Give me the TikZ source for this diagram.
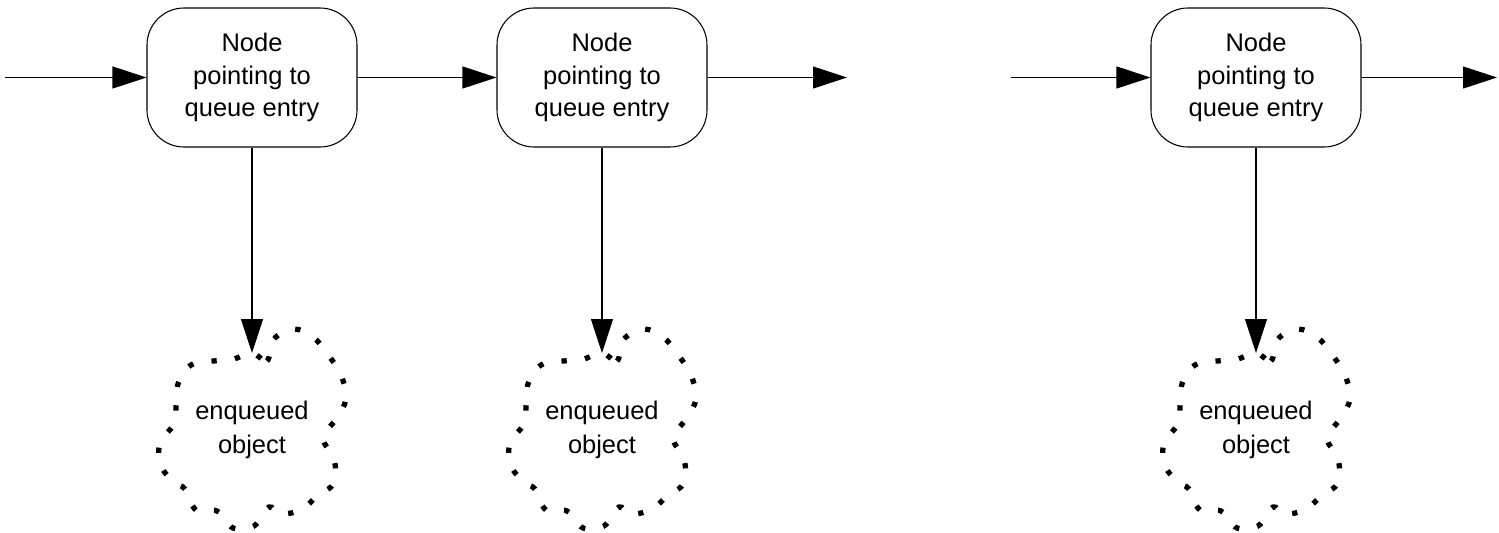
\documentclass[tikz,border=0pt]{standalone}
\usepackage{fontspec}
\setmainfont{Liberation Sans}
\usetikzlibrary{shapes,arrows.meta}

\begin{document}
\begin{tikzpicture}[node distance = 7cm, auto]

    % Define block styles
    \tikzstyle{block} = [rectangle, draw, line width = 0.6pt, align = center,
        rounded corners = 0.74cm, minimum width = 4.2cm, minimum height = 2.78cm,
        font = \fontsize{14.5}{18.5}\selectfont]
    \tikzstyle{blob} = [align = center, font = \fontsize{14.5}{19}\selectfont]
    \tikzstyle{line} = [draw, line width = 0.6pt,
        -{Triangle[length = 0.68cm, width = 0.44cm]}]
    \tikzstyle{dots} = [line width = 3pt, dash pattern = on 3pt off 10.5pt]

    \useasboundingbox (0,0) rectangle (29.98,10.64);

    % Place nodes
    \node [block] (entry1) at (5.04,9.09) {Node\\pointing to\\queue entry};
    \node [block, right of=entry1] (entry2) {Node\\pointing to\\queue entry};
    \node [block, right of=entry2, node distance = 13.08cm] (entry3)
        {Node\\pointing to\\queue entry};
    \node [blob, below of=entry1, node distance = 7.05cm] (obj1) {enqueued\\object};
    \node [blob, below of=entry2, node distance = 7.05cm] (obj2) {enqueued\\object};
    \node [blob, below of=entry3, node distance = 7.05cm] (obj3) {enqueued\\object};

    % Loose ends of the list
    \coordinate [left of=entry1, node distance = 4.94cm] (head1);
    \coordinate [right of=entry2, node distance = 4.9cm] (tail2);
    \coordinate [left of=entry3, node distance = 4.9cm] (head3);
    \coordinate [right of=entry3, node distance = 4.82cm] (tail3);
    \coordinate [above of=obj1, node distance = 1.54cm] (dent1);
    \coordinate [above of=obj2, node distance = 1.54cm] (dent2);
    \coordinate [above of=obj3, node distance = 1.54cm] (dent3);

    % Dotted outlines of the objects
    \foreach \obj in {obj1, obj2, obj3}
        \draw [dots, shift={(\obj.center)}] plot [smooth cycle, tension = 0.6]
            coordinates {(0,1.54) (0.30,1.38) (0.44,1.82) (0.84,2.02) (1.24,1.84)
            (1.54,1.48) (1.78,1.10) (1.88,0.62) (1.68,0.22) (1.42,-0.16)
            (1.64,-0.58) (1.64,-1.06) (1.30,-1.32) (0.98,-1.60) (0.54,-1.68)
            (0.34,-1.54) (0.04,-1.92) (-0.38,-1.96) (-0.70,-1.62) (-1.12,-1.60)
            (-1.34,-1.18) (-1.54,-1.06) (-1.82,-0.72) (-1.84,-0.26) (-1.56,0.12)
            (-1.52,0.46) (-1.48,0.92) (-1.22,1.30) (-0.78,1.38) (-0.42,1.40)};

    % Draw edges
    \path [line] (head1) -- (entry1);
    \path [line] (entry1) -- (entry2);
    \path [line] (entry2) -- (tail2);
    \path [line] (head3) -- (entry3);
    \path [line] (entry3) -- (tail3);
    \path [line] (entry1) -- (dent1);
    \path [line] (entry2) -- (dent2);
    \path [line] (entry3) -- (dent3);

\end{tikzpicture}
\end{document}
